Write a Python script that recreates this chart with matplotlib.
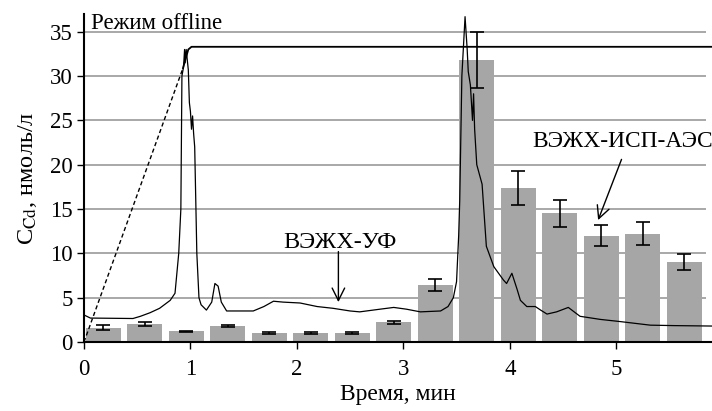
import numpy as np
import matplotlib.pyplot as plt

plt.rcParams['font.family'] = ['Liberation Serif', 'DejaVu Serif']
plt.rcParams['mathtext.fontset'] = 'stix'

# ВЭЖХ-ИСП-АЭС: фракции по 0.39 мин, концентрация Cd и отклонение
fraction_step = 0.39
icp_conc = [1.6, 2.0, 1.2, 1.8, 1.0, 1.0, 1.05, 2.2, 6.4, 31.8, 17.4, 14.5, 12.0, 12.2, 9.0]
icp_err = [0.3, 0.2, 0.08, 0.08, 0.08, 0.08, 0.1, 0.2, 0.7, 3.2, 1.9, 1.5, 1.2, 1.3, 0.9]

# ВЭЖХ-УФ хроматограмма
uv_time = [0.00, 0.06, 0.46, 0.53, 0.62, 0.71, 0.81, 0.855, 0.89, 0.91, 0.92, 0.935,
           0.945, 0.95, 0.96, 0.98, 0.99, 1.00, 1.01, 1.02, 1.03, 1.04, 1.06, 1.08,
           1.10, 1.15, 1.20, 1.23, 1.26, 1.29, 1.34, 1.59, 1.69, 1.78, 1.87, 2.03,
           2.19, 2.34, 2.50, 2.59, 2.78, 2.91, 3.03, 3.16, 3.35, 3.42, 3.47, 3.50,
           3.52, 3.53, 3.55, 3.58, 3.60, 3.61, 3.63, 3.64, 3.65, 3.66, 3.67, 3.69,
           3.74, 3.78, 3.85, 3.94, 3.97, 4.02, 4.07, 4.10, 4.16, 4.24, 4.29, 4.35,
           4.44, 4.55, 4.66, 4.85, 5.04, 5.32, 5.54, 5.90]
uv_conc = [3.05, 2.7, 2.65, 2.9, 3.3, 3.8, 4.7, 5.5, 10.0, 15.0, 30.0, 31.0,
           33.0, 31.5, 33.0, 30.7, 27.0, 26.0, 24.0, 25.5, 23.5, 22.0, 10.0, 5.0,
           4.2, 3.6, 4.5, 6.6, 6.3, 4.5, 3.5, 3.5, 4.0, 4.6, 4.5, 4.4,
           4.0, 3.8, 3.5, 3.4, 3.7, 3.9, 3.7, 3.4, 3.5, 4.0, 5.0, 6.8,
           12.0, 16.0, 30.0, 36.7, 33.0, 30.5, 29.0, 27.0, 25.0, 28.0, 24.0, 20.0,
           17.8, 10.8, 8.5, 7.0, 6.6, 7.75, 5.9, 4.7, 4.0, 4.0, 3.6, 3.15,
           3.4, 3.9, 2.9, 2.55, 2.3, 1.9, 1.85, 1.8]

# режим offline (накопление)
offline_dash_t = [0.0, 0.93]
offline_dash_c = [0.0, 30.9]
offline_t = [0.93, 0.98, 1.01, 5.90]
offline_c = [30.9, 33.0, 33.3, 33.3]

fig = plt.figure(figsize=(7.12, 4.11), dpi=100)
ax = fig.add_axes([84/712, 69/411, 628/712, 328/411])
ax.set_xlim(0, 5.90)
ax.set_ylim(0, 37)

for y in range(5, 40, 5):
    ax.hlines(y, 0, 5.84, color='#9a9a9a', lw=1.2, zorder=0)

x = np.arange(len(icp_conc)) * fraction_step + 0.18
ax.bar(x, icp_conc, width=0.33, color='#a6a6a6', zorder=1)
ax.errorbar(x, icp_conc, yerr=icp_err, fmt='none', ecolor='black', elinewidth=1.2,
            capsize=5, capthick=1.2, zorder=3)

ax.plot(uv_time, uv_conc, color='black', lw=0.9, zorder=4)
ax.plot(offline_dash_t, offline_dash_c, color='black', lw=1.0, ls=(0, (3, 2)), zorder=4)
ax.plot(offline_t, offline_c, color='black', lw=1.3, zorder=4)

ax.text(0.07, 35.3, 'Режим offline', fontsize=16.5)

arrow = dict(arrowstyle='->,head_length=0.9,head_width=0.45', color='black', lw=1,
             shrinkA=0, shrinkB=0)
ax.text(1.87, 10.6, 'ВЭЖХ-УФ', fontsize=17.5)
ax.annotate('', xy=(2.39, 4.5), xytext=(2.39, 10.2), arrowprops=arrow)
ax.text(4.21, 22.0, 'ВЭЖХ-ИСП-АЭС', fontsize=16.8)
ax.annotate('', xy=(4.83, 13.75), xytext=(5.05, 20.6), arrowprops=arrow)

for s in ['top', 'right']:
    ax.spines[s].set_visible(False)
for s in ['left', 'bottom']:
    ax.spines[s].set_linewidth(1.5)

ax.set_xticks(range(0, 6))
ax.set_yticks(range(0, 40, 5))
ax.tick_params(axis='both', direction='out', length=5, width=1, labelsize=16.5)
ax.tick_params(axis='x', pad=7)
ax.tick_params(axis='y', pad=3)

ax.set_xlabel('Время, мин', fontsize=17, labelpad=3)
ax.set_ylabel('C$_{\\mathrm{Cd}}$, нмоль/л', fontsize=17.5, labelpad=8)

fig.savefig('out.png', dpi=100)
